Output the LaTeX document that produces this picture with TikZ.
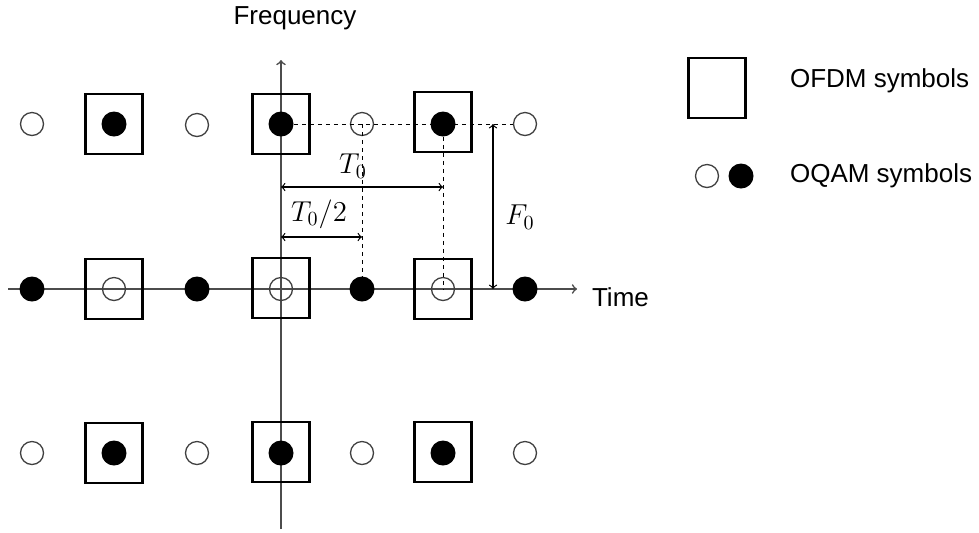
\documentclass[tikz,border=0pt]{standalone}
\usepackage{fontspec}
\setmainfont{Liberation Sans}
\usepackage{amsmath}

\tikzset{
  ofdm/.style={draw, line width=1.4pt, minimum width=28.6pt, minimum height=30pt, inner sep=0pt},
  oqamopen/.style={circle, draw=black!75, line width=0.65pt, minimum size=11.5pt, inner sep=0pt},
  oqamfull/.style={circle, fill=black, minimum size=12.5pt, inner sep=0pt},
  axis/.style={->, draw=black!70, line width=0.8pt},
  guide/.style={dash pattern=on 2pt off 2pt, line width=0.5pt},
  dim/.style={<->, line width=0.6pt},
  lbl/.style={font=\fontsize{13}{15}\selectfont},
  mlbl/.style={font=\fontsize{14.4}{17}\selectfont},
}

\begin{document}
\begin{tikzpicture}[x=0.5pt,y=-0.5pt]
\useasboundingbox (0,0) rectangle (979,532);
% axes
\coordinate (fbot) at (281,529);
\coordinate (ftop) at (281,60);
\coordinate (tleft) at (8,289);
\coordinate (tright) at (577,289);
\draw[axis] (fbot) -- (ftop);
\draw[axis] (tleft) -- (tright);
\node[lbl] (freq) at (295,18) {Frequency};
\node[lbl,anchor=west] (time) at (585,297) {Time};

% OFDM symbols
\node[ofdm] (b12) at (114,124) {};
\node[ofdm] (b14) at (281,124) {};
\node[ofdm] (b16) at (443,122) {};
\node[ofdm] (b22) at (114,289) {};
\node[ofdm] (b24) at (281,288) {};
\node[ofdm] (b26) at (443,289) {};
\node[ofdm] (b32) at (114,453) {};
\node[ofdm] (b34) at (281,452) {};
\node[ofdm] (b36) at (443,452) {};

% OQAM symbols, top row
\node[oqamopen] (n11) at (32,124) {};
\node[oqamfull] (n12) at (114,124) {};
\node[oqamopen] (n13) at (197,125) {};
\node[oqamfull] (n14) at (281,124) {};
\node[oqamopen] (n15) at (362,124) {};
\node[oqamfull] (n16) at (443,124) {};
\node[oqamopen] (n17) at (525,124) {};
% middle row
\node[oqamfull] (n21) at (32,289) {};
\node[oqamopen] (n22) at (114,289) {};
\node[oqamfull] (n23) at (197,289) {};
\node[oqamopen] (n24) at (281,289) {};
\node[oqamfull] (n25) at (362,289) {};
\node[oqamopen] (n26) at (443,289) {};
\node[oqamfull] (n27) at (525,289) {};
% bottom row
\node[oqamopen] (n31) at (32,453) {};
\node[oqamfull] (n32) at (114,453) {};
\node[oqamopen] (n33) at (197,453) {};
\node[oqamfull] (n34) at (281,453) {};
\node[oqamopen] (n35) at (362,453) {};
\node[oqamfull] (n36) at (443,453) {};
\node[oqamopen] (n37) at (525,453) {};

% guides
\draw[guide] (n14) -- (n17);
\draw[guide] (n15.center) -- (n25);
\draw[guide] (n16) -- (n26.center);

% spacings
\coordinate (lvla) at (0,187);
\coordinate (lvlb) at (0,237);
\coordinate (fx) at (493,0);
\draw[dim] (n14 |- lvla) -- (n16 |- lvla);
\draw[dim] (n14 |- lvlb) -- (n15 |- lvlb);
\draw[dim] (fx |- n14) -- (fx |- n24);
\node[mlbl] (tzero) at (353,166) {$T_0$};
\node[mlbl] (thalf) at (319,214) {$T_0/2$};
\node[mlbl] (fzero) at (520,217) {$F_0$};

% legend
\node[ofdm] (lbox) at (717,88) {};
\node[oqamopen] (lopen) at (707,176) {};
\node[oqamfull] (lfull) at (741,176) {};
\node[lbl,anchor=west] (lofdm) at (783,81) {OFDM symbols};
\node[lbl,anchor=west] (loqam) at (783,176) {OQAM symbols};
\end{tikzpicture}
\end{document}
